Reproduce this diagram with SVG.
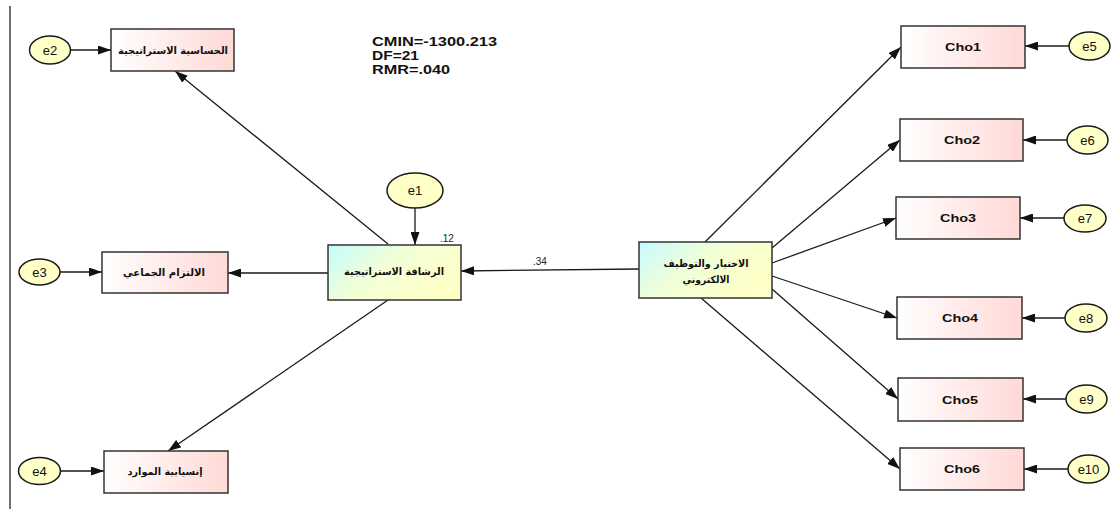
<svg xmlns="http://www.w3.org/2000/svg" width="1117" height="511" viewBox="0 0 1117 511">
  <style>
    .obs { stroke: #333; stroke-width: 1.5; fill: url(#gPink); }
    .lat { stroke: #333; stroke-width: 1.5; fill: url(#gLat); }
    .err { stroke: #1a1a1a; stroke-width: 1.5; fill: #ffffc8; }
    .lbl { font-family: "Liberation Sans", "DejaVu Sans", sans-serif; fill: #111; text-anchor: middle; }
    .ar { font-family: "DejaVu Sans", "Liberation Sans", sans-serif; font-weight: bold; font-size: 10px; fill: #111; text-anchor: middle; }
    .cho { font-weight: bold; font-size: 11.5px; }
    .e { font-size: 13px; }
    .fit { font-family: "Liberation Sans", sans-serif; font-weight: bold; font-size: 13px; fill: #111; }
    .coef { font-family: "Liberation Sans", sans-serif; font-size: 10px; fill: #222; }
    #connectors line { stroke: #1a1a1a; stroke-width: 1.3; marker-end: url(#arrow); }
  </style>
  <defs>
    <linearGradient id="gPink" x1="0" y1="0" x2="1" y2="0">
      <stop offset="0" stop-color="#ffffff"/>
      <stop offset="1" stop-color="#ffd9d6"/>
    </linearGradient>
    <linearGradient id="gLat" x1="0" y1="0" x2="1" y2="0.5">
      <stop offset="0" stop-color="#c6fbff"/>
      <stop offset="0.5" stop-color="#f2ffd6"/>
      <stop offset="1" stop-color="#ffffc8"/>
    </linearGradient>
    <marker id="arrow" markerUnits="userSpaceOnUse" markerWidth="14" markerHeight="9" refX="13" refY="4.5" orient="auto">
      <path d="M0,0 L13,4.5 L0,9 Z" fill="#111"/>
    </marker>
  </defs>

  <rect width="1117" height="511" fill="#ffffff"/>
  <line x1="10" y1="6" x2="10" y2="509" stroke="#222" stroke-width="1.3"/>

  <!-- fit statistics -->
  <g id="fit">
    <text class="fit" x="372" y="46" textLength="125" lengthAdjust="spacingAndGlyphs">CMIN=-1300.213</text>
    <text class="fit" x="372" y="60" textLength="47" lengthAdjust="spacingAndGlyphs">DF=21</text>
    <text class="fit" x="372" y="74" textLength="78" lengthAdjust="spacingAndGlyphs">RMR=.040</text>
  </g>

  <!-- paths -->
  <g id="connectors">
    <line x1="70" y1="50" x2="111" y2="50"/>
    <line x1="60" y1="272" x2="102" y2="272"/>
    <line x1="60" y1="471" x2="104" y2="471"/>
    <line x1="388" y1="244" x2="175" y2="71"/>
    <line x1="328" y1="273" x2="228" y2="273"/>
    <line x1="388" y1="300" x2="168" y2="451"/>
    <line x1="415" y1="208" x2="415" y2="245"/>
    <line x1="639" y1="269" x2="461" y2="271"/>
    <line x1="705" y1="242" x2="901" y2="47"/>
    <line x1="772" y1="248" x2="900" y2="140"/>
    <line x1="772" y1="263" x2="896" y2="218"/>
    <line x1="772" y1="276" x2="897" y2="318"/>
    <line x1="772" y1="289" x2="898" y2="399"/>
    <line x1="701" y1="298" x2="900" y2="469"/>
    <line x1="1069" y1="46" x2="1025" y2="46"/>
    <line x1="1067" y1="140" x2="1023" y2="140"/>
    <line x1="1064" y1="218" x2="1020" y2="218"/>
    <line x1="1065" y1="318" x2="1022" y2="318"/>
    <line x1="1066" y1="399" x2="1023" y2="399"/>
    <line x1="1068" y1="469" x2="1024" y2="469"/>
  </g>

  <g id="coefficients">
    <text class="coef" x="440" y="242">.12</text>
    <text class="coef" x="533" y="265">.34</text>
  </g>

  <!-- latent variables -->
  <g id="agility">
    <rect class="lat" x="328" y="245" width="133" height="55"/>
    <text class="ar" x="394" y="275" textLength="100" lengthAdjust="spacingAndGlyphs">الرشاقة الاستراتيجية</text>
  </g>
  <g id="selection">
    <rect class="lat" x="639" y="242" width="133" height="56"/>
    <text class="ar" x="706" y="267" textLength="85" lengthAdjust="spacingAndGlyphs">الاختيار والتوظيف</text>
    <text class="ar" x="706" y="283" textLength="47" lengthAdjust="spacingAndGlyphs">الالكتروني</text>
  </g>

  <!-- agility indicators -->
  <g id="sensitivity">
    <rect class="obs" x="111" y="29" width="123" height="42"/>
    <text class="ar" x="173" y="54" textLength="110" lengthAdjust="spacingAndGlyphs">الحساسية الاستراتيجية</text>
  </g>
  <g id="commitment">
    <rect class="obs" x="102" y="252" width="126" height="41"/>
    <text class="ar" x="164" y="276" textLength="82" lengthAdjust="spacingAndGlyphs">الالتزام  الجماعي</text>
  </g>
  <g id="flow">
    <rect class="obs" x="104" y="451" width="124" height="42"/>
    <text class="ar" x="165" y="475" textLength="75" lengthAdjust="spacingAndGlyphs">إنسيابية الموارد</text>
  </g>

  <!-- selection indicators -->
  <g id="cho1">
    <rect class="obs" x="901" y="26" width="124" height="42"/>
    <text class="lbl cho" x="963" y="51" textLength="36" lengthAdjust="spacingAndGlyphs">Cho1</text>
  </g>
  <g id="cho2">
    <rect class="obs" x="900" y="119" width="123" height="42"/>
    <text class="lbl cho" x="962" y="144" textLength="36" lengthAdjust="spacingAndGlyphs">Cho2</text>
  </g>
  <g id="cho3">
    <rect class="obs" x="896" y="197" width="124" height="42"/>
    <text class="lbl cho" x="958" y="222" textLength="36" lengthAdjust="spacingAndGlyphs">Cho3</text>
  </g>
  <g id="cho4">
    <rect class="obs" x="897" y="297" width="125" height="42"/>
    <text class="lbl cho" x="960" y="322" textLength="36" lengthAdjust="spacingAndGlyphs">Cho4</text>
  </g>
  <g id="cho5">
    <rect class="obs" x="898" y="378" width="125" height="43"/>
    <text class="lbl cho" x="960" y="404" textLength="36" lengthAdjust="spacingAndGlyphs">Cho5</text>
  </g>
  <g id="cho6">
    <rect class="obs" x="900" y="448" width="124" height="42"/>
    <text class="lbl cho" x="962" y="473" textLength="36" lengthAdjust="spacingAndGlyphs">Cho6</text>
  </g>

  <!-- error terms -->
  <g id="e1">
    <ellipse class="err" cx="415" cy="190.5" rx="28" ry="17.5"/>
    <text class="lbl e" x="415" y="195">e1</text>
  </g>
  <g id="e2">
    <ellipse class="err" cx="50" cy="50" rx="20.5" ry="14"/>
    <text class="lbl e" x="50" y="54.5">e2</text>
  </g>
  <g id="e3">
    <ellipse class="err" cx="39.5" cy="272" rx="20.5" ry="13"/>
    <text class="lbl e" x="39.5" y="276.5">e3</text>
  </g>
  <g id="e4">
    <ellipse class="err" cx="39.5" cy="471" rx="21" ry="13.5"/>
    <text class="lbl e" x="39.5" y="475.5">e4</text>
  </g>
  <g id="e5">
    <ellipse class="err" cx="1089.5" cy="46" rx="20.5" ry="14"/>
    <text class="lbl e" x="1089.5" y="50.5">e5</text>
  </g>
  <g id="e6">
    <ellipse class="err" cx="1087.5" cy="140" rx="20.5" ry="14"/>
    <text class="lbl e" x="1087.5" y="144.5">e6</text>
  </g>
  <g id="e7">
    <ellipse class="err" cx="1085" cy="218.5" rx="21" ry="13.5"/>
    <text class="lbl e" x="1085" y="223">e7</text>
  </g>
  <g id="e8">
    <ellipse class="err" cx="1086" cy="318" rx="21" ry="14"/>
    <text class="lbl e" x="1086" y="322.5">e8</text>
  </g>
  <g id="e9">
    <ellipse class="err" cx="1086.5" cy="399" rx="20.5" ry="14"/>
    <text class="lbl e" x="1086.5" y="403.5">e9</text>
  </g>
  <g id="e10">
    <ellipse class="err" cx="1088.5" cy="469" rx="20.5" ry="14"/>
    <text class="lbl e" x="1088.5" y="473.5">e10</text>
  </g>
</svg>
